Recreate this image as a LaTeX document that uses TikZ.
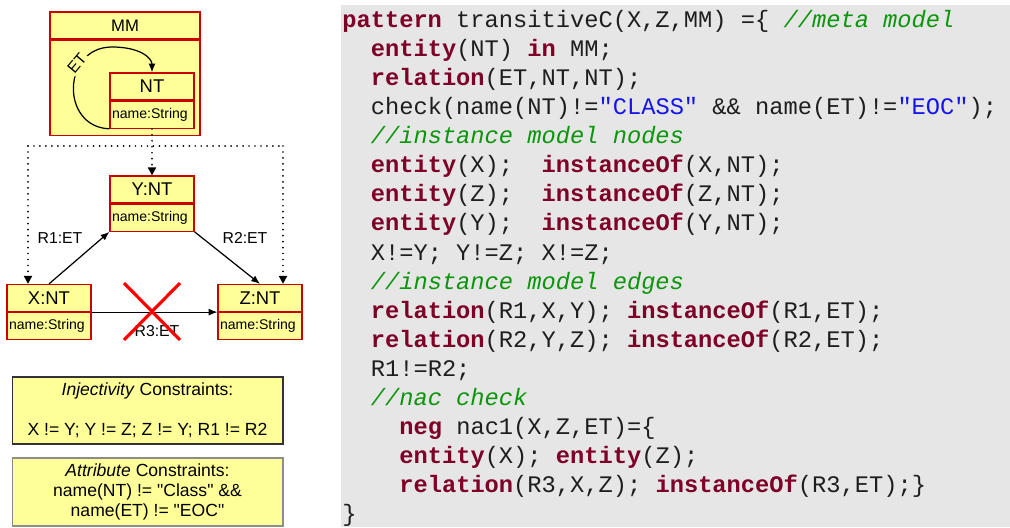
\documentclass[tikz,border=0pt]{standalone}
\usepackage{fontspec}
\newfontfamily\diagfont{Liberation Sans}
\newfontfamily\codefont{Liberation Mono}
\usepackage{tikz}
\usetikzlibrary{arrows.meta, positioning}

\definecolor{classfill}{RGB}{255,255,153}
\definecolor{classline}{RGB}{204,0,0}
\definecolor{codebg}{RGB}{230,230,230}
\definecolor{codetext}{RGB}{30,30,30}
\definecolor{kwcolor}{RGB}{127,0,38}
\definecolor{cmcolor}{RGB}{10,150,10}
\definecolor{strcolor}{RGB}{20,20,235}

\newcommand{\codekw}[1]{\textbf{\textcolor{kwcolor}{#1}}}
\newcommand{\codecm}[1]{\textit{\textcolor{cmcolor}{#1}}}
\newcommand{\codestr}[1]{\textcolor{strcolor}{#1}}

\tikzset{
    classhead/.style={draw=classline, fill=classfill, line width=0.7pt,
        minimum width=1.68cm, minimum height=0.54cm, inner sep=0pt,
        font=\diagfont\fontsize{10.5}{12}\selectfont},
    classatt/.style={classhead, text width=1.6cm, align=left,
        font=\diagfont\fontsize{8}{10}\selectfont},
    mmhead/.style={classhead, minimum width=3cm,
        font=\diagfont\fontsize{9.5}{11}\selectfont},
    mmbody/.style={classhead, minimum width=3cm, minimum height=1.9cm},
    relarrow/.style={line width=0.7pt, -{Latex[length=5pt,width=4pt]}},
    rellabel/.style={inner sep=0pt, font=\diagfont\fontsize{9}{11}\selectfont},
    dots/.style={line width=1.1pt, dash pattern=on 0pt off 3.4pt, line cap=round},
    instof/.style={dots, -{Triangle[length=4.5pt,width=4.5pt]}},
    nacross/.style={draw=red, line width=1.8pt},
    constraint/.style={draw=black!80, fill=classfill, line width=0.6pt,
        minimum width=5.42cm, align=center, inner sep=0pt,
        font=\diagfont\fontsize{10}{11.4}\selectfont},
    codeline/.style={anchor=base west, inner sep=0pt, text=codetext,
        font=\codefont\fontsize{13.5}{16}\selectfont}
}

\begin{document}
\begin{tikzpicture}[x=0.02cm, y=-0.02cm]
    \useasboundingbox (0,0) rectangle (1010,527);

    % meta model
    \node[mmhead] (MM) at (125,25.5) {MM};
    \node[mmbody, below=0pt of MM] (MMbody) {};
    \node[classhead] (NT) at (152,86.5) {NT};
    \node[classatt, below=0pt of NT] (NTatt) {name:String};
    \draw[relarrow] (NTatt.south west) .. controls (60,127) and (62,47) .. (112,47)
        .. controls (140,47) and (152,58) .. (NT.north);
    \node[rellabel, rotate=50, fill=classfill, inner sep=1pt] (ETlbl) at (77,63) {ET};

    % instance model
    \node[classhead] (Y) at (152,189.5) {Y:NT};
    \node[classatt, below=0pt of Y] (Yatt) {name:String};
    \node[classhead] (X) at (49,298) {X:NT};
    \node[classatt, below=0pt of X] (Xatt) {name:String};
    \node[classhead] (Z) at (260,298) {Z:NT};
    \node[classatt, below=0pt of Z] (Zatt) {name:String};

    % instanceOf
    \coordinate (bendL) at (28,146);
    \coordinate (bendR) at (283,146);
    \draw[instof] (NTatt.south) -- (Y.north);
    \draw[dots] (bendL) -- (bendR);
    \draw[instof] (bendL) -- (bendL |- X.north);
    \draw[instof] (bendR) -- (bendR |- Z.north);

    % edges
    \draw[relarrow] (X.north) -- (Yatt.south west);
    \draw[relarrow] (Yatt.south east) -- (Z.north);
    \draw[relarrow] (X.south east) -- (Z.south west);
    \node[rellabel] (R1lbl) at (60,238) {R1:ET};
    \node[rellabel] (R2lbl) at (245,238) {R2:ET};
    \node[rellabel] (R3lbl) at (157,331) {R3:ET};
    \draw[nacross] (124,283) -- (180,340);
    \draw[nacross] (180,283) -- (124,340);

    % constraints
    \node[constraint, minimum height=1.34cm] (inj) at (147.5,410.5)
        {\textit{Injectivity} Constraints:\\[11.4pt] X != Y; Y != Z; Z != Y; R1 != R2};
    \node[constraint, draw=black!45, minimum height=1.36cm] (attr) at (147.5,492)
        {\textit{Attribute} Constraints:\\ name(NT) != "Class" \&\&\\ name(ET) != "EOC"};

    % code
    \fill[codebg] (341,5) rectangle (1010,527);
    \node[codeline] (c1) at (342,27.5) {\codekw{pattern} transitiveC(X,Z,MM) =\{ \codecm{//meta model}};
    \node[codeline] (c2) at (370.5,56.6) {\codekw{entity}(NT) \codekw{in} MM;};
    \node[codeline] (c3) at (370.5,85.6) {\codekw{relation}(ET,NT,NT);};
    \node[codeline] (c4) at (370.5,114.7) {check(name(NT)!=\codestr{"CLASS"} \&\& name(ET)!=\codestr{"EOC"});};
    \node[codeline] (c5) at (370.5,143.7) {\codecm{//instance model nodes}};
    \node[codeline] (c6) at (370.5,172.8) {\codekw{entity}(X);~~\codekw{instanceOf}(X,NT);};
    \node[codeline] (c7) at (370.5,201.9) {\codekw{entity}(Z);~~\codekw{instanceOf}(Z,NT);};
    \node[codeline] (c8) at (370.5,230.9) {\codekw{entity}(Y);~~\codekw{instanceOf}(Y,NT);};
    \node[codeline] (c9) at (370.5,260) {X!=Y; Y!=Z; X!=Z;};
    \node[codeline] (c10) at (370.5,289) {\codecm{//instance model edges}};
    \node[codeline] (c11) at (370.5,318.1) {\codekw{relation}(R1,X,Y); \codekw{instanceOf}(R1,ET);};
    \node[codeline] (c12) at (370.5,347.2) {\codekw{relation}(R2,Y,Z); \codekw{instanceOf}(R2,ET);};
    \node[codeline] (c13) at (370.5,376.2) {R1!=R2;};
    \node[codeline] (c14) at (370.5,405.3) {\codecm{//nac check}};
    \node[codeline] (c15) at (399,434.3) {\codekw{neg} nac1(X,Z,ET)=\{};
    \node[codeline] (c16) at (399,463.4) {\codekw{entity}(X); \codekw{entity}(Z);};
    \node[codeline] (c17) at (399,492.5) {\codekw{relation}(R3,X,Z); \codekw{instanceOf}(R3,ET);\}};
    \node[codeline] (c18) at (342,521.5) {\}};
\end{tikzpicture}
\end{document}
